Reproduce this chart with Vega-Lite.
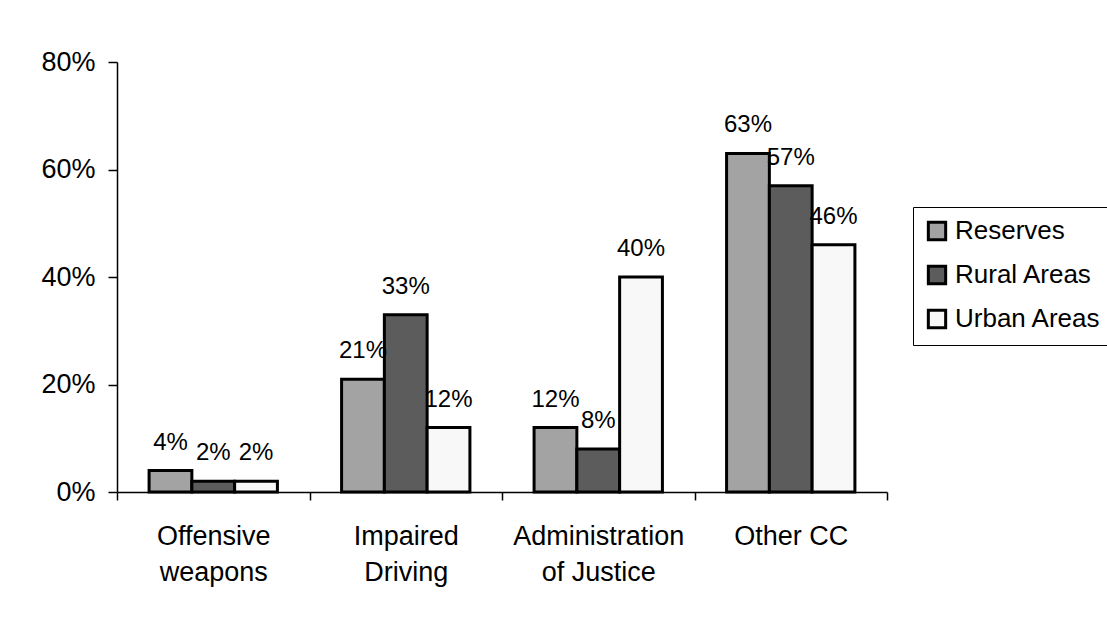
{
  "$schema": "https://vega.github.io/schema/vega-lite/v6.json",
  "width": 770,
  "height": 430,
  "autosize": {"type": "none"},
  "padding": {"left": 117, "top": 62, "right": 220, "bottom": 132},
  "background": "white",
  "config": {
    "font": "Liberation Sans",
    "view": {"stroke": null},
    "axis": {"grid": false, "domainColor": "black", "tickColor": "black", "labelColor": "black", "labelFont": "Liberation Sans", "domainWidth": 1.5, "tickWidth": 1.5}
  },
  "data": {
    "values": [
      {"cat": "Offensive weapons", "area": "Reserves", "v": 0.04},
      {"cat": "Offensive weapons", "area": "Rural Areas", "v": 0.02},
      {"cat": "Offensive weapons", "area": "Urban Areas", "v": 0.02},
      {"cat": "Impaired Driving", "area": "Reserves", "v": 0.21},
      {"cat": "Impaired Driving", "area": "Rural Areas", "v": 0.33},
      {"cat": "Impaired Driving", "area": "Urban Areas", "v": 0.12},
      {"cat": "Administration of Justice", "area": "Reserves", "v": 0.12},
      {"cat": "Administration of Justice", "area": "Rural Areas", "v": 0.08},
      {"cat": "Administration of Justice", "area": "Urban Areas", "v": 0.40},
      {"cat": "Other CC", "area": "Reserves", "v": 0.63},
      {"cat": "Other CC", "area": "Rural Areas", "v": 0.57},
      {"cat": "Other CC", "area": "Urban Areas", "v": 0.46}
    ]
  },
  "encoding": {
    "x": {
      "field": "cat", "type": "nominal", "sort": null,
      "scale": {"paddingInner": 0, "paddingOuter": 0},
      "axis": {
        "title": null, "labelAngle": 0, "tickBand": "extent", "tickSize": 8,
        "labelFontSize": 27, "labelPadding": 23, "labelLineHeight": 36,
        "labelBaseline": "top",
        "labelExpr": "!datum.value ? '' : datum.value == 'Administration of Justice' ? ['Administration', 'of Justice'] : datum.value == 'Other CC' ? 'Other CC' : split(datum.value, ' ')"
      }
    },
    "xOffset": {
      "field": "area", "type": "nominal", "sort": null,
      "scale": {"paddingInner": 0, "paddingOuter": 0.75}
    },
    "y": {
      "field": "v", "type": "quantitative",
      "scale": {"domain": [0, 0.8], "nice": false},
      "axis": {"title": null, "values": [0, 0.2, 0.4, 0.6, 0.8], "format": ".0%", "tickSize": 9, "labelFontSize": 27, "labelPadding": 13}
    }
  },
  "layer": [
    {
      "mark": {"type": "bar", "stroke": "black", "strokeWidth": 3},
      "encoding": {
        "color": {
          "field": "area", "type": "nominal", "sort": null,
          "scale": {"domain": ["Reserves", "Rural Areas", "Urban Areas"], "range": ["#a3a3a3", "#5c5c5c", "#f8f8f8"]},
          "legend": {
            "title": null, "orient": "none", "legendX": 796, "legendY": 145,
            "strokeColor": "black", "padding": 11, "fillColor": "white",
            "symbolType": "square", "symbolSize": 300, "symbolStrokeColor": "black", "symbolStrokeWidth": 3,
            "labelFontSize": 26, "labelColor": "black", "labelOffset": 5, "rowPadding": 14, "labelFont": "Liberation Sans"
          }
        }
      }
    },
    {
      "mark": {"type": "text", "baseline": "alphabetic", "dy": -21, "fontSize": 24, "color": "black", "font": "Liberation Sans"},
      "encoding": {
        "text": {"field": "v", "type": "quantitative", "format": ".0%"}
      }
    }
  ]
}
